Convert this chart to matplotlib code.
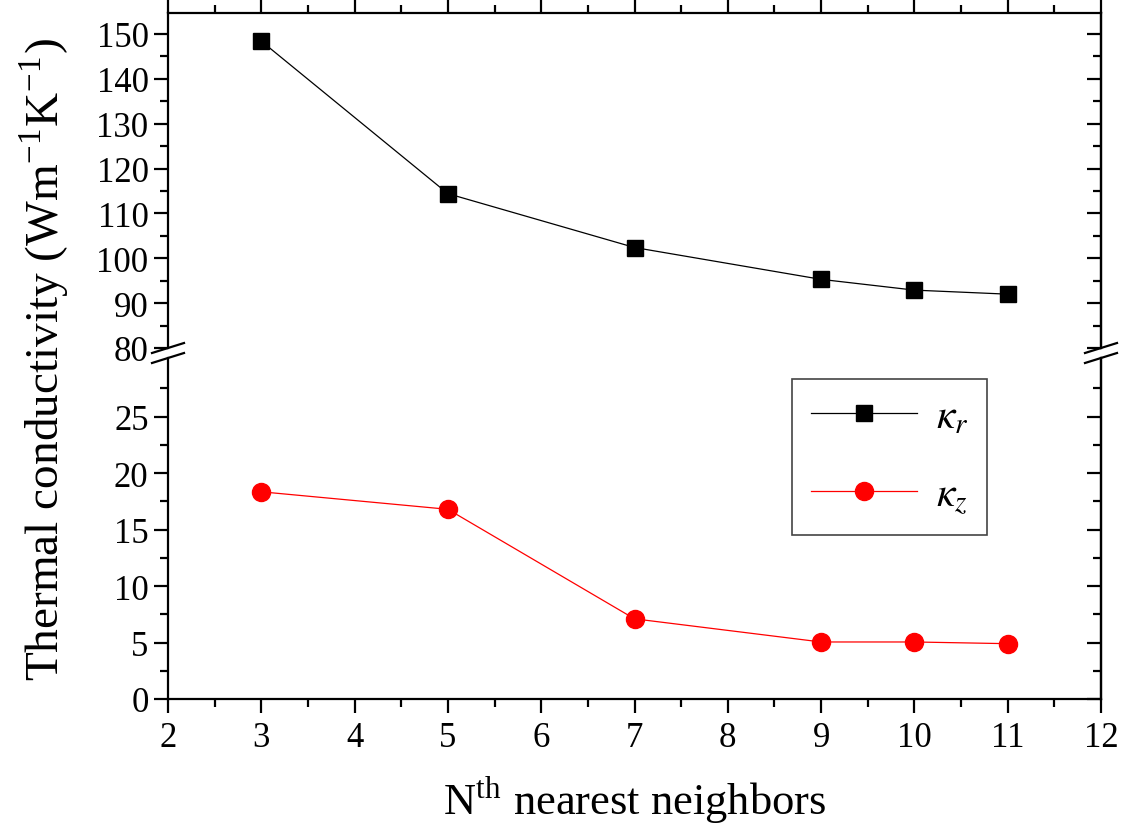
import matplotlib
matplotlib.use("Agg")
import matplotlib.pyplot as plt
from matplotlib.ticker import MultipleLocator, FixedLocator
from matplotlib.lines import Line2D

# Data
neighbors = [3, 5, 7, 9, 10, 11]
kappa_r = [148.4, 114.4, 102.4, 95.3, 92.9, 92.0]
kappa_z = [18.35, 16.8, 7.1, 5.05, 5.05, 4.9]
x_ticks = [2, 3, 4, 5, 6, 7, 8, 9, 10, 11, 12]
upper_ticks = [80, 90, 100, 110, 120, 130, 140, 150]
lower_ticks = [0, 5, 10, 15, 20, 25]

plt.rcParams["font.family"] = ["Liberation Serif", "DejaVu Serif"]
plt.rcParams["mathtext.fontset"] = "stix"

W, H = 1125, 828
fig = plt.figure(figsize=(W / 100, H / 100), dpi=100)

# axes geometry in pixels
x0, x1 = 168, 1101
top_y0, top_y1 = 14, 349      # upper panel (pixel rows from top)
bot_y0, bot_y1 = 359, 700     # lower panel


def fy(py):
    return 1 - py / H


ax_top = fig.add_axes([x0 / W, fy(top_y1), (x1 - x0) / W, fy(top_y0) - fy(top_y1)])
ax_bot = fig.add_axes([x0 / W, fy(bot_y1), (x1 - x0) / W, fy(bot_y0) - fy(bot_y1)])

spine_w = 1.6
for ax in (ax_top, ax_bot):
    ax.set_xlim(2, 12)
    for s in ax.spines.values():
        s.set_linewidth(spine_w)
    ax.xaxis.set_major_locator(MultipleLocator(1))
    ax.xaxis.set_minor_locator(MultipleLocator(0.5))

ax_top.set_ylim(80, 154.67)
ax_top.yaxis.set_major_locator(FixedLocator(upper_ticks))
ax_top.yaxis.set_minor_locator(MultipleLocator(5))
ax_bot.set_ylim(0, 30.2)
ax_bot.yaxis.set_major_locator(FixedLocator(lower_ticks))
ax_bot.yaxis.set_minor_locator(FixedLocator([2.5, 7.5, 12.5, 17.5, 22.5, 27.5]))

ax_top.spines["bottom"].set_visible(False)
ax_bot.spines["top"].set_visible(False)

# left ticks outward, right ticks inward
for ax in (ax_top, ax_bot):
    ax.tick_params(axis="y", which="major", direction="out", length=10, width=spine_w,
                   left=True, right=False, labelsize=25, pad=4)
    ax.tick_params(axis="y", which="minor", direction="out", length=6, width=spine_w,
                   left=True, right=False)
    sec = ax.secondary_yaxis("right")
    sec.spines["right"].set_linewidth(spine_w)
    sec.tick_params(which="major", direction="in", length=10, width=spine_w, labelright=False)
    sec.tick_params(which="minor", direction="in", length=6, width=spine_w)
    sec.yaxis.set_major_locator(ax.yaxis.get_major_locator())
    sec.yaxis.set_minor_locator(ax.yaxis.get_minor_locator())

ax_top.tick_params(axis="x", which="major", direction="out", length=10, width=spine_w,
                   bottom=False, top=True, labelbottom=False, labeltop=False)
ax_top.tick_params(axis="x", which="minor", direction="out", length=6, width=spine_w,
                   bottom=False, top=True)
ax_bot.tick_params(axis="x", which="major", direction="out", length=10, width=spine_w,
                   bottom=True, top=False, labelsize=25, pad=6)
ax_bot.tick_params(axis="x", which="minor", direction="out", length=6, width=spine_w,
                   bottom=True, top=False)
ax_bot.set_xticks(x_ticks)
ax_bot.set_xticklabels([str(v) for v in x_ticks])

# data
ax_top.plot(neighbors, kappa_r, color="black", lw=0.9, marker="s", markersize=11,
            clip_on=False, zorder=5)
ax_bot.plot(neighbors, kappa_z, color="red", lw=0.9, marker="o", markersize=13,
            clip_on=False, zorder=5)

# axis break marks
for px in (x0, x1):
    for py in (top_y1, bot_y0):
        fig.add_artist(Line2D([(px - 16) / W, (px + 16) / W],
                              [fy(py + 5), fy(py - 5)],
                              color="black", lw=spine_w, transform=fig.transFigure))

# labels
fig.text(45 / W, fy(360), "Thermal conductivity (Wm$^{\\mathregular{-1}}$K$^{\\mathregular{-1}}$)",
         rotation=90, ha="center", va="center", fontsize=34)
fig.text((x0 + x1) / 2 / W, fy(800), "N$^{\\mathregular{th}}$ nearest neighbors",
         ha="center", va="center", fontsize=32)

# legend
handles = [Line2D([], [], color="black", lw=0.9, marker="s", markersize=11),
           Line2D([], [], color="red", lw=0.9, marker="o", markersize=13)]
leg = ax_bot.legend(handles, [r"$\kappa_r$", r"$\kappa_z$"],
                    loc="upper left",
                    bbox_to_anchor=((792 - x0) / (x1 - x0), (bot_y1 - 380) / (bot_y1 - bot_y0)),
                    borderaxespad=0,
                    fontsize=30, handlelength=2.55, handletextpad=0.45,
                    labelspacing=0.95, borderpad=0.45, fancybox=False, framealpha=1,
                    edgecolor="#444444")
leg.get_frame().set_linewidth(1.2)

fig.savefig("out.png", dpi=100)
